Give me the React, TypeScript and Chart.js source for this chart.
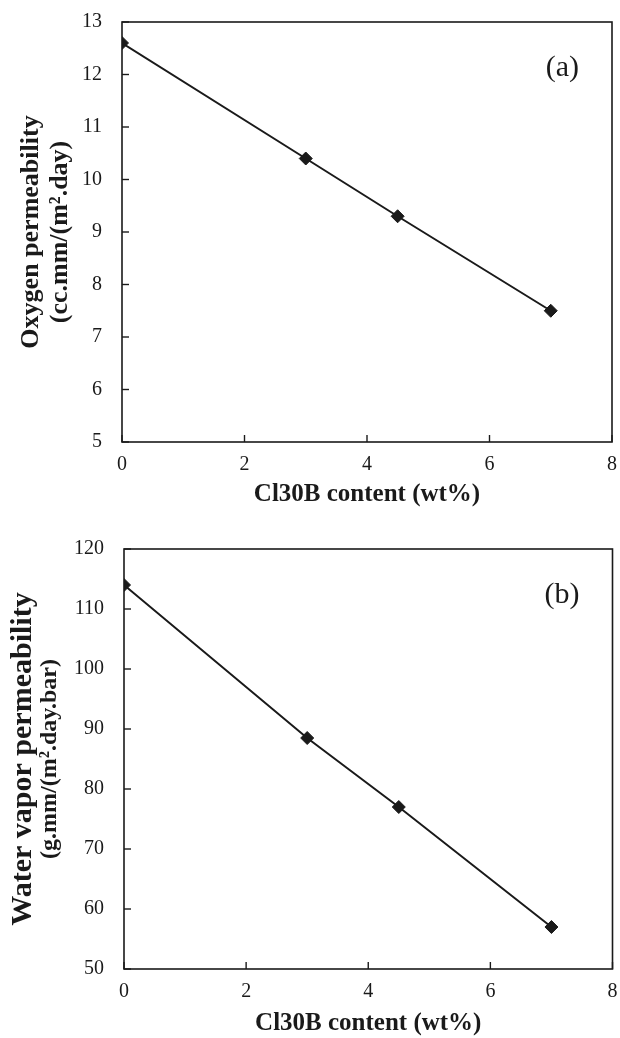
import React, { useEffect, useRef } from "react";
import { Chart, registerables } from "chart.js";

Chart.register(...registerables);

// ---- data ----
const cl30bContent = [0, 3, 4.5, 7];
const oxygenPermeability = [12.6, 10.4, 9.3, 7.5];
const waterVaporPermeability = [114, 88.5, 77, 57];
const xTickValues = [0, 2, 4, 6, 8];
const oxygenTickValues = [5, 6, 7, 8, 9, 10, 11, 12, 13];
const waterTickValues = [50, 60, 70, 80, 90, 100, 110, 120];
const xAxisTitle = "Cl30B content (wt%)";
const oxygenTitleLines = ["Oxygen permeability", "(cc.mm/(m\u00B2.day)"];
const waterTitleLines = ["Water vapor permeability", "(g.mm/(m\u00B2.day.bar)"];
const panelLabels = ["(a)", "(b)"];

const SERIF = "'Liberation Serif', 'Times New Roman', serif";
const INK = "#1a1a1a";

type PanelCfg = {
  height: number;
  values: number[];
  yTicks: number[];
  yTitle: string[];
  yTitleX: number[];
  yTitleSize: number[];
  label: string;
  pad: { top: number; right: number; bottom: number; left: number };
  yWidth: number;
  xHeight: number;
  xTitlePad: number;
};

const framePlugin = {
  id: "frameAndLabels",
  afterDraw(chart: any, _args: any, opts: any) {
    const { ctx, chartArea } = chart;
    const { left, right, top, bottom } = chartArea;
    ctx.save();
    ctx.strokeStyle = INK;
    ctx.lineWidth = 1.6;
    ctx.strokeRect(left, top, right - left, bottom - top);
    ctx.lineWidth = 1.4;
    const xs = chart.scales.x;
    xs.ticks.forEach((t: any) => {
      const px = xs.getPixelForValue(t.value);
      ctx.beginPath();
      ctx.moveTo(px, bottom);
      ctx.lineTo(px, bottom - 7);
      ctx.stroke();
    });
    const ys = chart.scales.y;
    ys.ticks.forEach((t: any) => {
      const py = ys.getPixelForValue(t.value);
      ctx.beginPath();
      ctx.moveTo(left, py);
      ctx.lineTo(left + 7, py);
      ctx.stroke();
    });
    // panel label
    ctx.fillStyle = INK;
    ctx.font = `30px ${SERIF}`;
    ctx.textAlign = "right";
    ctx.textBaseline = "middle";
    ctx.fillText(opts.label, right - 33, top + 46);
    // y title lines
    const cy = (top + bottom) / 2;
    opts.yTitle.forEach((line: string, i: number) => {
      ctx.save();
      ctx.translate(opts.yTitleX[i], cy);
      ctx.rotate(-Math.PI / 2);
      ctx.font = `bold ${opts.yTitleSize[i]}px ${SERIF}`;
      ctx.textAlign = "center";
      ctx.textBaseline = "middle";
      ctx.fillText(line, 0, 0);
      ctx.restore();
    });
    ctx.restore();
  },
};

function Panel({ cfg }: { cfg: PanelCfg }) {
  const ref = useRef<HTMLCanvasElement | null>(null);
  useEffect(() => {
    if (!ref.current) return;
    const yMin = cfg.yTicks[0];
    const yMax = cfg.yTicks[cfg.yTicks.length - 1];
    const chart = new Chart(ref.current, {
      type: "line",
      data: {
        datasets: [
          {
            data: cl30bContent.map((x, i) => ({ x, y: cfg.values[i] })),
            borderColor: INK,
            borderWidth: 2,
            pointStyle: "rectRot",
            pointRadius: 6.5,
            pointHoverRadius: 6.5,
            pointBackgroundColor: INK,
            pointBorderColor: INK,
            pointBorderWidth: 1,
            tension: 0,
          },
        ],
      },
      options: {
        animation: false,
        responsive: false,
        maintainAspectRatio: false,
        events: [],
        layout: { padding: cfg.pad },
        plugins: {
          legend: { display: false },
          tooltip: { enabled: false },
          frameAndLabels: {
            label: cfg.label,
            yTitle: cfg.yTitle,
            yTitleX: cfg.yTitleX,
            yTitleSize: cfg.yTitleSize,
          },
        } as any,
        scales: {
          x: {
            type: "linear",
            min: xTickValues[0],
            max: xTickValues[xTickValues.length - 1],
            afterBuildTicks: (s: any) => {
              s.ticks = xTickValues.map((v) => ({ value: v }));
            },
            afterFit: (s: any) => {
              s.height = cfg.xHeight;
              s.paddingLeft = 0;
              s.paddingRight = 0;
            },
            grid: { display: false, drawTicks: false },
            border: { display: false },
            ticks: {
              padding: 11,
              color: INK,
              font: { family: SERIF, size: 20 },
              maxRotation: 0,
            },
            title: {
              display: true,
              text: xAxisTitle,
              color: INK,
              font: { family: SERIF, size: 25, weight: "bold" },
              padding: { top: 0, bottom: cfg.xTitlePad },
            },
          },
          y: {
            type: "linear",
            min: yMin,
            max: yMax,
            afterBuildTicks: (s: any) => {
              s.ticks = cfg.yTicks.map((v) => ({ value: v }));
            },
            afterFit: (s: any) => {
              s.width = cfg.yWidth;
              s.paddingTop = 0;
              s.paddingBottom = 0;
            },
            grid: { display: false, drawTicks: false },
            border: { display: false },
            ticks: {
              padding: 20,
              color: INK,
              font: { family: SERIF, size: 20 },
            },
          },
        },
      },
      plugins: [framePlugin],
    });
    return () => chart.destroy();
  }, [cfg]);
  return (
    <canvas
      ref={ref}
      width={620}
      height={cfg.height}
      style={{ display: "block", width: 620, height: cfg.height }}
    />
  );
}

const topCfg: PanelCfg = {
  height: 520,
  values: oxygenPermeability,
  yTicks: oxygenTickValues,
  yTitle: oxygenTitleLines,
  yTitleX: [31, 60],
  yTitleSize: [26, 26],
  label: panelLabels[0],
  pad: { top: 22, right: 8, bottom: 0, left: 0 },
  yWidth: 122,
  xHeight: 78,
  xTitlePad: 10,
};

const bottomCfg: PanelCfg = {
  height: 518,
  values: waterVaporPermeability,
  yTicks: waterTickValues,
  yTitle: waterTitleLines,
  yTitleX: [23, 50],
  yTitleSize: [30, 24],
  label: panelLabels[1],
  pad: { top: 29, right: 7, bottom: 0, left: 0 },
  yWidth: 124,
  xHeight: 69,
  xTitlePad: -1,
};

export default function App() {
  return (
    <div style={{ position: "absolute", left: 0, top: 0, width: 620, height: 1038, background: "#fff" }}>
      <Panel cfg={topCfg} />
      <Panel cfg={bottomCfg} />
    </div>
  );
}
